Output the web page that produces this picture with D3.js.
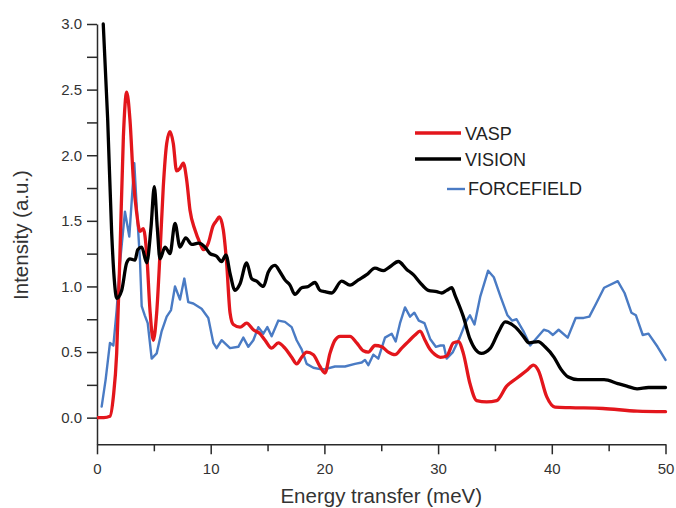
<!DOCTYPE html>
<html>
<head>
<meta charset="utf-8">
<script src="https://cdn.jsdelivr.net/npm/d3@7"></script>
<style>
  html, body { margin: 0; padding: 0; background: #fff; }
  svg { display: block; font-family: "Liberation Sans", Arial, sans-serif; }
</style>
</head>
<body>
<svg id="chart" width="676" height="508"></svg>
<script>
// ---------- data (Energy transfer in meV, Intensity in a.u.) ----------
const seriesNames = ["VASP", "VISION", "FORCEFIELD"];

const vaspE = [0, 0.6, 1.14, 1.44, 1.73, 2.02, 2.32, 2.61, 2.9, 3.2, 3.49, 3.78, 4.07, 4.37, 4.66, 4.95, 5.25, 5.54, 5.83, 6.13, 6.42, 6.71, 7.0, 7.3, 7.59, 7.89, 8.18, 8.62, 9.06, 9.35, 9.79, 10.2, 10.5, 10.76, 11.11, 11.4, 11.7, 11.99, 12.58, 13.16, 13.75, 14.33, 14.78, 15.36, 15.95, 16.53, 17.12, 17.56, 18.0, 18.44, 19.03, 19.61, 20.05, 20.49, 20.93, 21.37, 22.25, 22.84, 23.42, 23.86, 24.45, 25.04, 25.62, 26.21, 26.8, 27.38, 27.97, 28.41, 28.85, 29.29, 29.73, 30.2, 30.76, 31.34, 31.78, 32.22, 32.8, 33.39, 34.27, 35.15, 36.03, 36.91, 37.79, 38.38, 38.82, 39.55, 40.28, 41.6, 44.5, 47.5, 50];
const vaspI = [0, 0, 0.01, 0.16, 0.49, 1.25, 2.14, 2.48, 2.27, 1.81, 1.56, 1.42, 1.44, 1.25, 0.82, 0.59, 0.8, 1.25, 1.76, 2.09, 2.18, 2.09, 1.88, 1.9, 1.94, 1.81, 1.58, 1.43, 1.33, 1.28, 1.33, 1.46, 1.5, 1.53, 1.43, 1.18, 0.8, 0.71, 0.69, 0.72, 0.67, 0.64, 0.59, 0.53, 0.57, 0.53, 0.46, 0.41, 0.46, 0.5, 0.48, 0.39, 0.34, 0.49, 0.59, 0.62, 0.62, 0.57, 0.51, 0.5, 0.55, 0.54, 0.5, 0.48, 0.53, 0.58, 0.63, 0.66, 0.59, 0.52, 0.48, 0.46, 0.47, 0.57, 0.58, 0.49, 0.26, 0.13, 0.12, 0.13, 0.24, 0.3, 0.36, 0.4, 0.36, 0.16, 0.08, 0.076, 0.07, 0.05, 0.046];

const visionE = [0.55, 0.94, 1.29, 1.55, 1.73, 2.17, 2.61, 2.9, 3.34, 3.58, 3.93, 4.37, 4.75, 5.04, 5.3, 5.54, 5.98, 6.42, 6.86, 7.3, 7.8, 8.33, 8.91, 9.5, 9.94, 10.52, 10.96, 11.34, 11.7, 12.14, 12.58, 13.16, 13.6, 14.04, 14.63, 15.07, 15.65, 16.1, 16.53, 16.97, 17.41, 18.0, 18.59, 19.17, 19.61, 20.05, 20.64, 21.52, 22.25, 22.99, 23.72, 24.45, 25.19, 25.77, 26.5, 27.24, 27.82, 28.41, 29.14, 29.88, 30.32, 30.76, 31.2, 31.5, 32.22, 32.8, 33.8, 34.6, 35.3, 35.9, 36.8, 37.5, 38.0, 38.8, 39.4, 40.2, 40.8, 41.45, 42.3, 43.5, 44.6, 45.8, 46.6, 47.5, 48.5, 50];
const visionI = [3.0, 2.27, 1.41, 1.02, 0.91, 0.97, 1.18, 1.21, 1.2, 1.28, 1.3, 1.18, 1.45, 1.76, 1.45, 1.21, 1.3, 1.25, 1.48, 1.3, 1.37, 1.32, 1.33, 1.3, 1.25, 1.23, 1.19, 1.24, 1.1, 0.97, 1.02, 1.18, 1.06, 1.04, 1.0, 1.11, 1.16, 1.11, 1.05, 1.01, 0.94, 0.99, 1.0, 1.03, 0.97, 0.96, 0.95, 1.04, 1.01, 1.05, 1.09, 1.14, 1.12, 1.15, 1.19, 1.13, 1.09, 1.03, 0.97, 0.96, 0.95, 0.97, 0.99, 0.93, 0.77, 0.6, 0.49, 0.53, 0.65, 0.73, 0.69, 0.62, 0.57, 0.58, 0.54, 0.46, 0.37, 0.31, 0.29, 0.29, 0.29, 0.26, 0.24, 0.22, 0.23, 0.23];

const forceE = [0.41, 0.76, 1.14, 1.44, 1.73, 2.02, 2.46, 2.84, 3.28, 3.49, 3.78, 3.93, 4.2, 4.46, 4.81, 5.25, 5.69, 6.13, 6.51, 6.86, 7.3, 7.68, 8.03, 8.47, 9.2, 9.79, 10.23, 10.52, 10.96, 11.7, 12.43, 12.87, 13.31, 13.75, 14.19, 14.63, 14.98, 15.36, 15.95, 16.53, 17.12, 17.56, 18.0, 18.44, 19.03, 19.61, 20.05, 20.93, 21.81, 22.69, 23.28, 23.57, 23.86, 24.3, 24.74, 25.33, 25.92, 26.27, 26.65, 27.09, 27.53, 27.91, 28.3, 28.8, 29.3, 29.8, 30.2, 30.5, 30.75, 31.3, 31.9, 32.5, 32.8, 33.2, 33.7, 34.4, 34.9, 35.5, 36.1, 36.5, 36.9, 37.5, 38.1, 38.5, 39.3, 39.7, 40.1, 40.6, 41.4, 42.1, 42.8, 43.3, 43.9, 44.6, 45.8, 46.4, 47.0, 47.4, 48.0, 48.5, 49.3, 50];
const forceI = [0.084, 0.29, 0.57, 0.55, 0.82, 1.18, 1.57, 1.38, 1.94, 1.61, 1.2, 0.85, 0.78, 0.72, 0.45, 0.49, 0.66, 0.77, 0.82, 1.0, 0.9, 1.06, 0.88, 0.87, 0.83, 0.76, 0.57, 0.53, 0.59, 0.53, 0.54, 0.61, 0.54, 0.59, 0.69, 0.64, 0.69, 0.62, 0.74, 0.73, 0.69, 0.59, 0.52, 0.41, 0.38, 0.37, 0.37, 0.39, 0.39, 0.41, 0.42, 0.44, 0.4, 0.48, 0.45, 0.61, 0.64, 0.58, 0.72, 0.84, 0.77, 0.8, 0.74, 0.72, 0.6, 0.54, 0.55, 0.55, 0.45, 0.5, 0.61, 0.74, 0.78, 0.71, 0.92, 1.12, 1.07, 0.92, 0.78, 0.74, 0.75, 0.66, 0.55, 0.59, 0.67, 0.66, 0.63, 0.67, 0.61, 0.76, 0.76, 0.77, 0.87, 0.99, 1.04, 0.95, 0.8, 0.78, 0.63, 0.64, 0.54, 0.44];

const xMajorTicks = [0, 10, 20, 30, 40, 50];
const xMinorTicks = [5, 15, 25, 35, 45];
const yMajorTicks = [0, 0.5, 1.0, 1.5, 2.0, 2.5, 3.0];
const yMinorTicks = [0.25, 0.75, 1.25, 1.75, 2.25, 2.75];

const xTitle = "Energy transfer (meV)";
const yTitle = "Intensity (a.u.)";

// ---------- drawing ----------
const svg = d3.select("#chart");
const x = d3.scaleLinear().domain([0, 50]).range([97, 665.5]);
const y = d3.scaleLinear().domain([-0.203, 3.0]).range([444.3, 24]);

const axisColor = "#2a2a2a";
const textColor = "#333";

// x axis
const gx = svg.append("g").attr("transform", `translate(0,${y(-0.203)})`);
gx.call(d3.axisBottom(x).tickValues(xMajorTicks).tickFormat(d3.format("d")).tickSize(10).tickSizeOuter(0).tickPadding(9));
const gxm = svg.append("g").attr("transform", `translate(0,${y(-0.203)})`);
gxm.call(d3.axisBottom(x).tickValues(xMinorTicks).tickFormat("").tickSize(7).tickSizeOuter(0));
gxm.select(".domain").remove();

// y axis
const gy = svg.append("g").attr("transform", `translate(${x(0)},0)`);
gy.call(d3.axisLeft(y).tickValues(yMajorTicks).tickFormat(d3.format(".1f")).tickSize(10).tickSizeOuter(0).tickPadding(5));
const gym = svg.append("g").attr("transform", `translate(${x(0)},0)`);
gym.call(d3.axisLeft(y).tickValues(yMinorTicks).tickFormat("").tickSize(10).tickSizeOuter(0));
gym.select(".domain").remove();

svg.selectAll(".domain, .tick line").attr("stroke", axisColor).attr("stroke-width", 1.5);
svg.selectAll(".tick text").attr("fill", textColor).style("font-size", "15px")
   .style("font-family", '"Liberation Sans", Arial, sans-serif');

// titles
svg.append("text").attr("x", (x(0) + x(50)) / 2 + 0).attr("y", 503)
  .attr("text-anchor", "middle").attr("fill", textColor)
  .style("font-size", "20.5px").text(xTitle);
svg.append("text").attr("transform", `translate(28,235) rotate(-90)`)
  .attr("text-anchor", "middle").attr("fill", textColor)
  .style("font-size", "20.5px").text(yTitle);

// clip
svg.append("clipPath").attr("id", "plotclip").append("rect")
  .attr("x", x(0)).attr("y", y(3.0) - 2).attr("width", x(50) - x(0) + 4).attr("height", y(-0.203) - y(3.0) + 2);

const smooth = d3.line().x(d => x(d[0])).y(d => y(d[1])).curve(d3.curveMonotoneX);
const straight = d3.line().x(d => x(d[0])).y(d => y(d[1]));

const series = [
  { name: seriesNames[0], E: vaspE, I: vaspI, color: "#e3161c", width: 3.3, gen: smooth },
  { name: seriesNames[1], E: visionE, I: visionI, color: "#000000", width: 3.3, gen: smooth },
  { name: seriesNames[2], E: forceE, I: forceI, color: "#4a7bc4", width: 2.4, gen: straight }
];

const plot = svg.append("g").attr("clip-path", "url(#plotclip)");
// draw order: blue first, then red, then black on top
[series[2], series[0], series[1]].forEach(s => {
  plot.append("path")
    .datum(s.E.map((e, i) => [e, s.I[i]]))
    .attr("fill", "none").attr("stroke", s.color).attr("stroke-width", s.width)
    .attr("stroke-linejoin", "round").attr("stroke-linecap", "round")
    .attr("d", s.gen);
});

// legend
const legend = svg.append("g");
const legendRows = [
  { s: series[0], x1: 415, x2: 461, ly: 133, tx: 465, ty: 140 },
  { s: series[1], x1: 415, x2: 461, ly: 159, tx: 465, ty: 166 },
  { s: series[2], x1: 447, x2: 465, ly: 189, tx: 468, ty: 195 }
];
legendRows.forEach(r => {
  legend.append("line").attr("x1", r.x1).attr("x2", r.x2).attr("y1", r.ly).attr("y2", r.ly)
    .attr("stroke", r.s.color).attr("stroke-width", r.s.width);
  legend.append("text").attr("x", r.tx).attr("y", r.ty).attr("fill", "#222")
    .style("font-size", "18px").text(r.s.name);
});
</script>
</body>
</html>
